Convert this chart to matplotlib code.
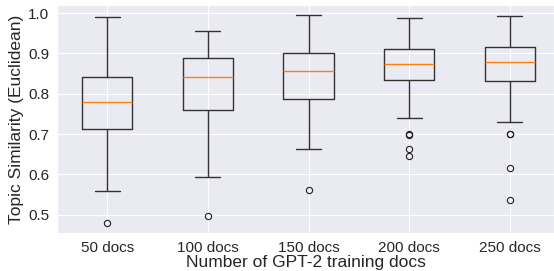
import matplotlib
matplotlib.use('Agg')
import matplotlib.pyplot as plt
import seaborn as sns

sns.set_style('darkgrid')
plt.rcParams['font.family'] = ['Liberation Sans', 'DejaVu Sans']

labels = ['50 docs', '100 docs', '150 docs', '200 docs', '250 docs']
whislo = [0.560, 0.593, 0.662, 0.741, 0.729]
q1 = [0.712, 0.759, 0.786, 0.834, 0.832]
med = [0.779, 0.841, 0.856, 0.873, 0.878]
q3 = [0.842, 0.888, 0.900, 0.911, 0.917]
whishi = [0.991, 0.955, 0.994, 0.989, 0.992]
fliers = [
    [0.481],
    [0.497],
    [0.562],
    [0.700, 0.699, 0.662, 0.646],
    [0.701, 0.700, 0.616, 0.536],
]

stats = []
for i in range(len(labels)):
    stats.append({'label': labels[i], 'whislo': whislo[i], 'q1': q1[i], 'med': med[i],
                  'q3': q3[i], 'whishi': whishi[i], 'fliers': fliers[i]})

fig = plt.figure(figsize=(5.54, 2.71), dpi=100)
ax = fig.add_axes([57 / 554, 1 - 233 / 271, 497 / 554, 228 / 271])
ax.bxp(stats, widths=0.5,
       boxprops=dict(color='#333333'), whiskerprops=dict(color='#333333'),
       capprops=dict(color='#333333'),
       flierprops=dict(marker='o', markersize=4.5, markeredgewidth=0.8,
                       markerfacecolor='none', markeredgecolor='#222222'))
ax.set_xlim(0.5, 5.44)
ax.set_ylim(0.455, 1.02)
ax.set_yticks([0.5, 0.6, 0.7, 0.8, 0.9, 1.0])
ax.tick_params(labelsize=11, pad=2)
ax.set_xlabel('Number of GPT-2 training docs', fontsize=12.5, labelpad=0)
ax.set_ylabel('Topic Similarity (Euclidean)', fontsize=12.5, labelpad=3)

fig.savefig('out.png', dpi=100)
